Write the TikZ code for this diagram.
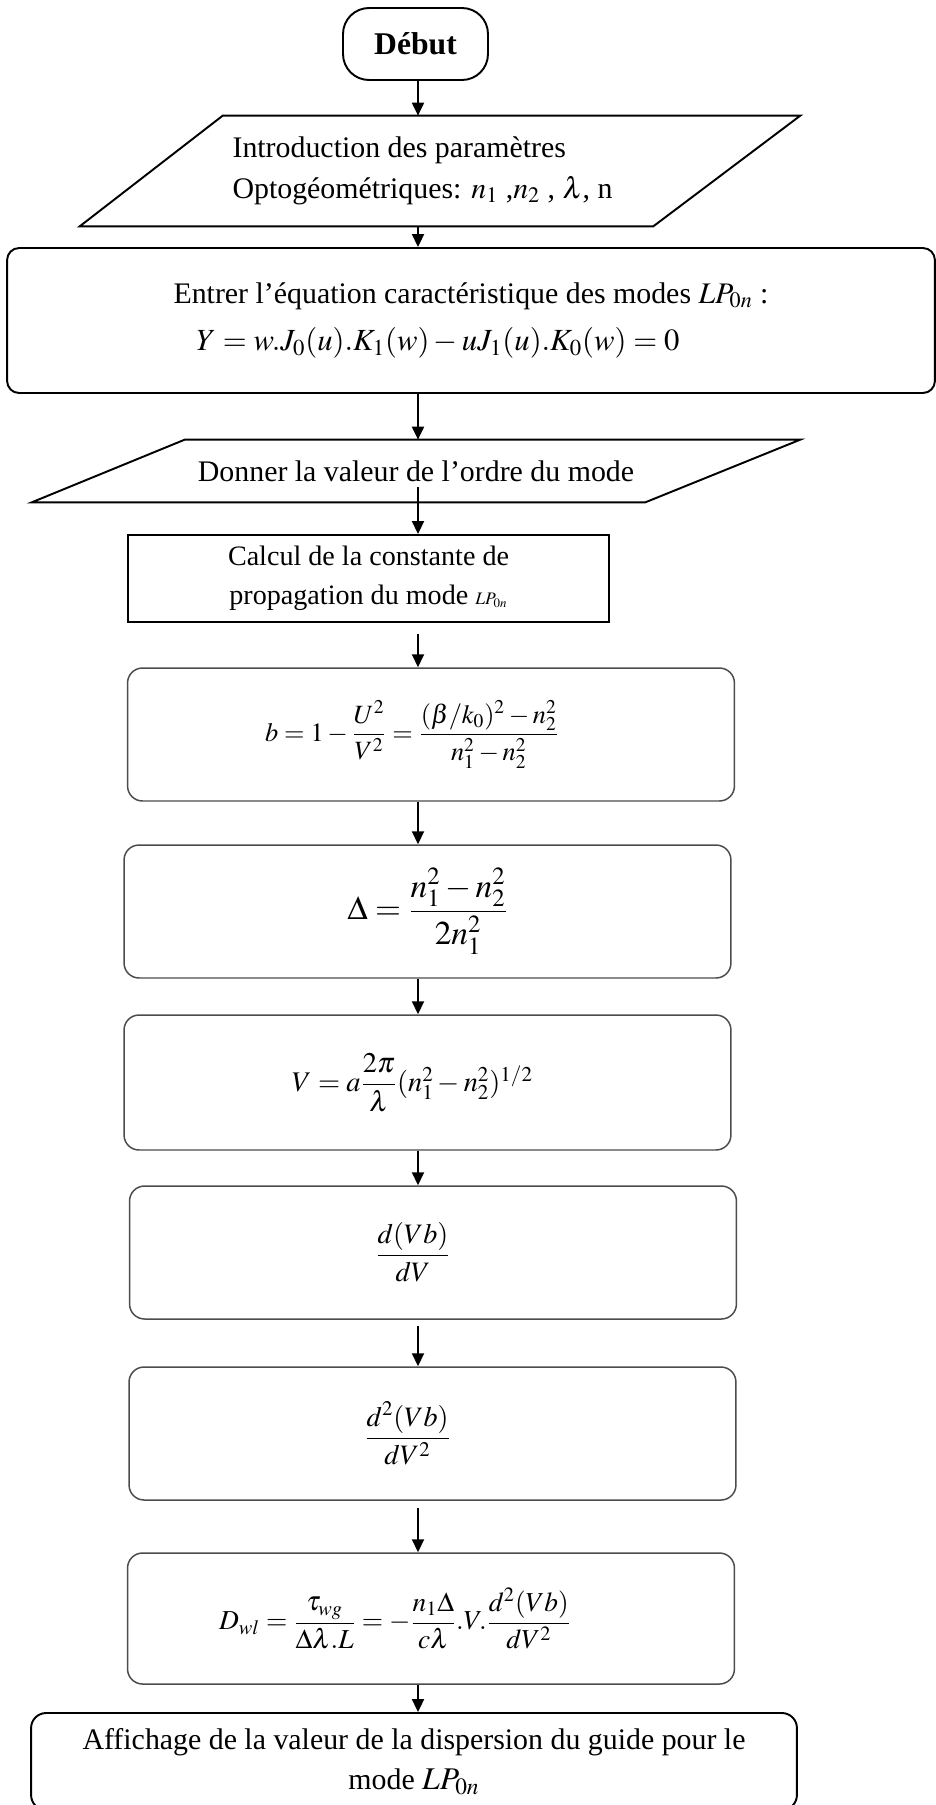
\documentclass[tikz,border=0pt]{standalone}
\usepackage{amsmath}
\usepackage{mathptmx}
\usepackage[no-math]{fontspec}
\setmainfont{Liberation Serif}
\usepackage{tikz}
\usetikzlibrary{positioning,calc,shapes.geometric,arrows.meta}
\tikzstyle{startstop} = [rectangle, rounded corners=0.52cm, minimum width=2.9cm, minimum height=1.44cm, text centered, draw=black, line width=1.1pt]
\tikzstyle{io} = [rectangle, inner sep=0pt]
\tikzstyle{ioline} = [draw=black, line width=1.1pt, line join=miter]
\tikzstyle{process} = [rectangle, draw=black, line width=1.1pt, align=center]
\tikzstyle{block} = [rectangle, rounded corners=0.3cm, draw=black!70, line width=0.85pt,
    minimum width=12.14cm, minimum height=2.66cm]
\tikzstyle{arrow} = [line width=1.1pt,-{Triangle[length=0.26cm,width=0.24cm]}]

\begin{document}
\begin{tikzpicture}[x=0.02cm, y=-0.02cm, font=\fontsize{17}{23}\selectfont]
    \useasboundingbox (0,0) rectangle (936,1805);
    \coordinate (axis) at (418,0);
    % We start by placing the blocks
    \node [startstop, font=\fontsize{18}{20}\selectfont\bfseries] (debut) at (415.5,44) {Début};
    \node [io, minimum width=14.4cm, minimum height=2.2cm, align=left] (intro) at (440,171)
        {Introduction des paramètres\\ Optogéométriques: $n_1$ ,$n_2$ , $\lambda$, n\hspace*{0.7cm}};
    \draw [ioline] ($(intro.north west)+(143,0)$) -- (intro.north east)
        -- ($(intro.south east)+(-147,0)$) -- (intro.south west) -- cycle;
    \node [rectangle, rounded corners=0.24cm, draw, line width=1.1pt, minimum width=18.56cm,
    minimum height=2.9cm, align=left, font=\fontsize{17}{27}\selectfont] (eqcar) at (471,320.5)
        {Entrer l’équation caractéristique des modes $LP_{0n}$ :\\
        \hspace*{0.46cm}{\fontsize{17.5}{27}\selectfont$Y = w.J_0(u).K_1(w) - uJ_1(u).K_0(w) = 0$}};
    \node [io, minimum width=15.36cm, minimum height=1.24cm] (ordre) at (416,471)
        {Donner la valeur de l’ordre du mode};
    \draw [ioline] ($(ordre.north west)+(153,0)$) -- (ordre.north east)
        -- ($(ordre.south east)+(-155,0)$) -- (ordre.south west) -- cycle;
    \node [process, minimum width=9.62cm, minimum height=1.74cm, font=\fontsize{16}{22}\selectfont]
        (calc) at (368.5,578.5)
        {Calcul de la constante de\\ propagation du mode {\fontsize{10}{12}\selectfont$LP_{0n}$}};
    % the formulas
    \node [block, font=\fontsize{15}{18}\selectfont] (bnorm) at (431,734.5)
        {$b = 1 - \dfrac{U^2}{V^2} = \dfrac{(\beta/k_0)^2 - n_2^2}{n_1^2 - n_2^2}$\hspace*{0.76cm}};
    \node [block, font=\fontsize{19}{22}\selectfont] (delta) at (427.5,911.5)
        {$\Delta = \dfrac{n_1^2 - n_2^2}{2n_1^2}$};
    \node [block, minimum height=2.7cm, font=\fontsize{16.2}{20}\selectfont] (vnorm) at (427.5,1082.5)
        {$V = a\dfrac{2\pi}{\lambda}(n_1^2 - n_2^2)^{1/2}$\hspace*{0.6cm}};
    \node [block, font=\fontsize{16}{20}\selectfont] (dvb) at (433,1252.5)
        {$\dfrac{d(Vb)}{dV}$\hspace*{0.8cm}};
    \node [block, font=\fontsize{16}{20}\selectfont] (ddvb) at (432.5,1433.5)
        {$\dfrac{d^2(Vb)}{dV^2}$\hspace*{1cm}};
    \node [block, minimum height=2.62cm, font=\fontsize{15.6}{20}\selectfont] (disp) at (431,1618.5)
        {$D_{wl} = \dfrac{\tau_{wg}}{\Delta\lambda.L} = -\dfrac{n_1\Delta}{c\lambda}.V.\dfrac{d^2(Vb)}{dV^2}$\hspace*{1.44cm}};
    \node [rectangle, rounded corners=0.3cm, draw, line width=1.1pt, minimum width=15.32cm,
    minimum height=1.94cm, align=center] (affich) at (414,1761.5)
        {Affichage de la valeur de la dispersion du guide pour le\\
        mode {\fontsize{18}{20}\selectfont$LP_{0n}$}};
    % arrows
    \draw [arrow] (debut.south -| axis) -- (intro.north -| axis);
    \draw [arrow] (intro.south -| axis) -- (eqcar.north -| axis);
    \draw [arrow] (eqcar.south -| axis) -- (ordre.north -| axis);
    \draw [arrow, shorten <=-0.3cm] (ordre.south -| axis) -- (calc.north -| axis);
    \draw [arrow, shorten <=0.22cm] (calc.south -| axis) -- (bnorm.north -| axis);
    \draw [arrow] (bnorm.south -| axis) -- (delta.north -| axis);
    \draw [arrow] (delta.south -| axis) -- (vnorm.north -| axis);
    \draw [arrow] (vnorm.south -| axis) -- (dvb.north -| axis);
    \draw [arrow, shorten <=0.12cm] (dvb.south -| axis) -- (ddvb.north -| axis);
    \draw [arrow, shorten <=0.14cm] (ddvb.south -| axis) -- (disp.north -| axis);
    \draw [arrow] (disp.south -| axis) -- (affich.north -| axis);
\end{tikzpicture}
\end{document}
